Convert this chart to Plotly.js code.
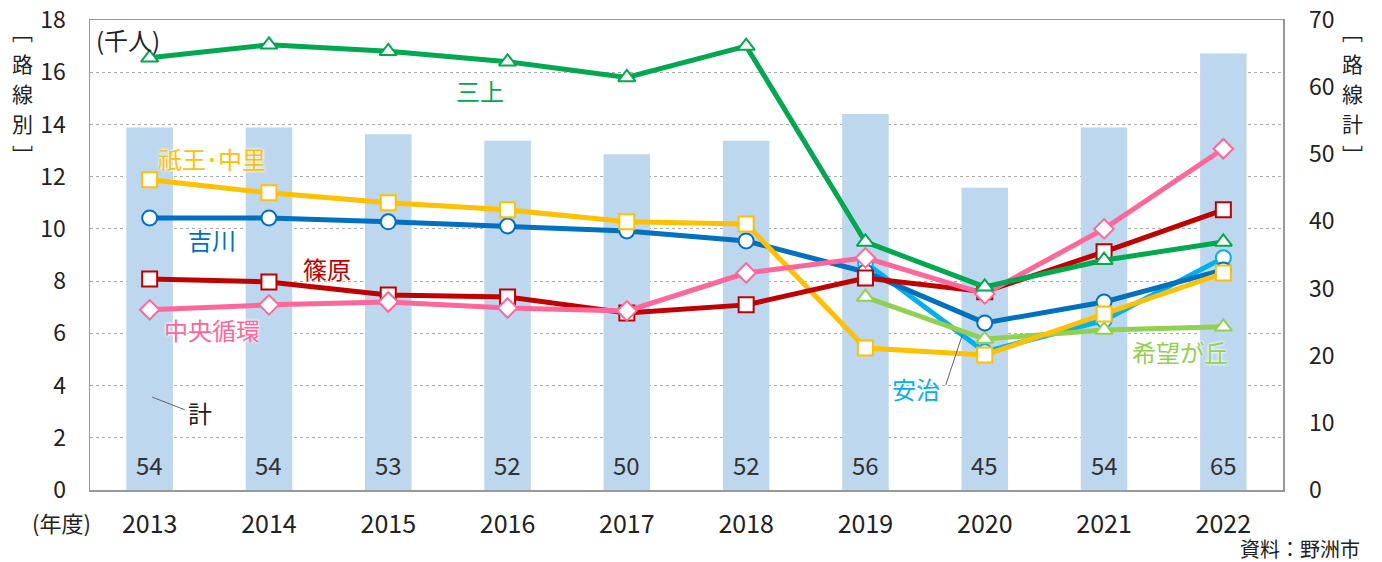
<!DOCTYPE html>
<html>
<head>
<meta charset="utf-8">
<script src="https://cdn.plot.ly/plotly-3.0.1.min.js"></script>
<style>html,body{margin:0;padding:0;background:#fff;}#chart{width:1382px;height:562px;}</style>
</head>
<body>
<div id="chart"></div>
<script>
const years = ['2013','2014','2015','2016','2017','2018','2019','2020','2021','2022'];
const totalRoutes = [54, 54, 53, 52, 50, 52, 56, 45, 54, 65];
const mikami   = [16.55, 17.05, 16.8, 16.4, 15.8, 17.0, 9.5, 7.78, 8.8, 9.5];
const giohNakasato = [11.88, 11.38, 11.0, 10.73, 10.27, 10.19, 5.44, 5.17, 6.74, 8.31];
const yoshikawa = [10.42, 10.42, 10.27, 10.11, 9.92, 9.54, 8.35, 6.4, 7.2, 8.43];
const shinohara = [8.08, 7.97, 7.47, 7.39, 6.78, 7.09, 8.12, 7.59, 9.12, 10.73];
const chuoJunkan = [6.9, 7.09, 7.2, 6.97, 6.86, 8.31, 8.89, 7.51, 10.0, 13.07];
const aji = [null, null, null, null, null, null, 8.7, 5.29, 6.5, 8.89];
const kibougaoka = [null, null, null, null, null, null, 7.39, 5.78, 6.13, 6.25];
const leftTicks = [0, 2, 4, 6, 8, 10, 12, 14, 16, 18];
const rightTicks = [0, 10, 20, 30, 40, 50, 60, 70];

const FONT = '"Noto Sans CJK JP", "Noto Sans", sans-serif';
// plot area in pixels: left 90, right 1283, top 20, bottom 490
const PL = 90, PR = 1283, PT = 20, PB = 490;
function px(x) { return (x - PL) / (PR - PL); }
function py(y) { return (PB - y) / (PB - PT); }

function lineTrace(name, y, color, symbol) {
  return {
    type: 'scatter', mode: 'lines+markers', name: name,
    x: years, y: y, xaxis: 'x', yaxis: 'y2',
    line: {color: color, width: 5},
    marker: {symbol: symbol, size: 15, color: '#ffffff', line: {color: color, width: 2}},
    connectgaps: false, hoverinfo: 'skip'
  };
}

const traces = [
  {type: 'bar', name: '計', x: years, y: totalRoutes, xaxis: 'x', yaxis: 'y',
   marker: {color: '#BDD7EE'}, width: 0.39, hoverinfo: 'skip'},
  lineTrace('安治', aji, '#00B0F0', 'circle'),
  lineTrace('希望が丘', kibougaoka, '#92D050', 'triangle-up'),
  lineTrace('吉川', yoshikawa, '#0070C0', 'circle'),
  lineTrace('祇王・中里', giohNakasato, '#FFC000', 'square'),
  lineTrace('篠原', shinohara, '#C00000', 'square'),
  lineTrace('中央循環', chuoJunkan, '#FF6699', 'diamond'),
  lineTrace('三上', mikami, '#00A84F', 'triangle-up')
];

const glow = '0 0 3px #fff, 0 0 3px #fff';
function label(text, x, y, color) {
  return {text: text, x: x, y: y, xref: 'x', yref: 'y2', xanchor: 'center', yanchor: 'middle', showarrow: false,
          font: {family: FONT, size: 24, color: color, shadow: glow}};
}
function paperText(text, xp, yp, size, xanchor, h) {
  const a = {text: text, xref: 'paper', yref: 'paper', x: px(xp), y: py(yp), xanchor: xanchor || 'center',
             yanchor: 'middle', showarrow: false, font: {family: FONT, size: size, color: '#222'}};
  if (h) a.height = h;
  return a;
}

const annotations = [
  label('三上', 2.77, 15.3, '#00A84F'),
  label('祇王･中里', 0.52, 12.7, '#FFC000'),
  label('吉川', 0.52, 9.58, '#0070C0'),
  label('篠原', 1.49, 8.5, '#C00000'),
  label('中央循環', 0.52, 6.13, '#FF6699'),
  label('安治', 6.42, 3.9, '#00B0F0'),
  label('希望が丘', 8.64, 5.29, '#92D050'),
  label('計', 0.42, 2.95, '#222222'),
  paperText('(千人)', 128, 40, 24),
  paperText('(年度)', 61, 522, 22),
  paperText('資料：野洲市', 1362, 548, 20, 'right', 24)
];
const titleChars = [['﹇', 31], ['路', 63], ['線', 93], [null, 123], ['﹈', 154]];
[['別', 22], ['計', 1352]].forEach(function (pair) {
  titleChars.forEach(function (c) {
    annotations.push(paperText(c[0] === null ? pair[0] : c[0], pair[1], c[1], 21, 'center', 26));
  });
});
totalRoutes.forEach(function (v, i) {
  annotations.push({text: String(v), x: i, y: 0, xref: 'x', yref: 'y', xanchor: 'center', yanchor: 'middle', yshift: 26,
                    showarrow: false, font: {family: FONT, size: 24, color: '#333'}});
});

const shapes = [
  {type: 'line', xref: 'x', yref: 'y2', x0: 0.02, y0: 3.56, x1: 0.296, y1: 3.07, line: {color: '#666', width: 1}},
  {type: 'line', xref: 'x', yref: 'y2', x0: 6.673, y0: 4.02, x1: 6.812, y1: 5.94, line: {color: '#666', width: 1}}
];

const layout = {
  width: 1382, height: 562,
  margin: {l: PL, r: 1382 - PR, t: PT, b: 562 - PB},
  paper_bgcolor: '#fff', plot_bgcolor: '#fff',
  showlegend: false,
  font: {family: FONT, color: '#222'},
  xaxis: {type: 'category', range: [-0.5, 9.5], showgrid: false, showline: true, linecolor: '#999', linewidth: 1.5,
          mirror: true, ticks: '', ticklabelstandoff: 11, tickfont: {family: FONT, size: 25, color: '#222'}},
  yaxis: {range: [0, 70], tickvals: rightTicks, side: 'right', showgrid: false, zeroline: false,
          showline: true, linecolor: '#999', linewidth: 1.5, ticks: '', ticklabelstandoff: 20,
          tickfont: {family: FONT, size: 23, color: '#222'}},
  yaxis2: {range: [0, 18], tickvals: leftTicks, overlaying: 'y', side: 'left', showgrid: true, gridcolor: '#aaa',
           griddash: 'dot', gridwidth: 1, zeroline: false, showline: true, linecolor: '#999', linewidth: 1.5,
           ticks: '', ticklabelstandoff: 18, tickfont: {family: FONT, size: 23, color: '#222'}},
  annotations: annotations,
  shapes: shapes
};

Plotly.newPlot('chart', traces, layout, {displayModeBar: false, staticPlot: true});
</script>
</body>
</html>
